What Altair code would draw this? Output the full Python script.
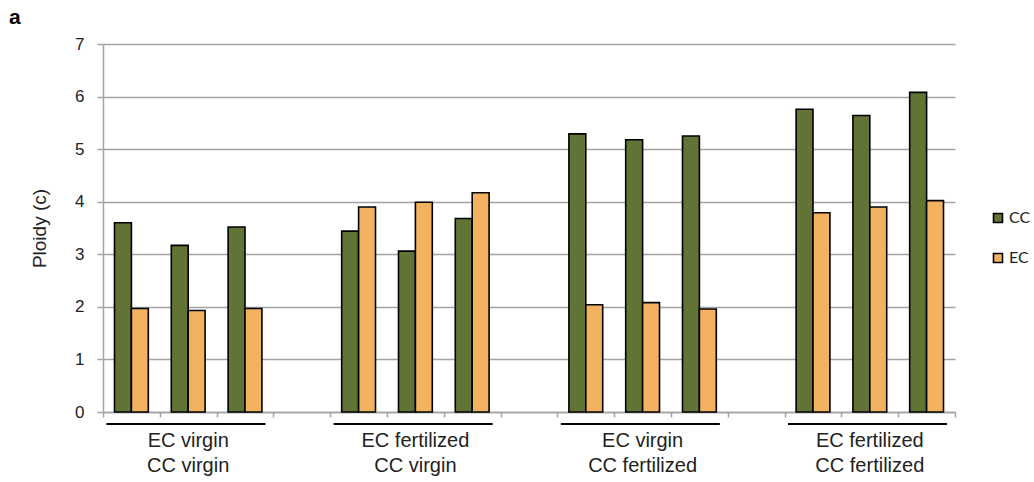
import altair as alt
import pandas as pd

# Ploidy (c) of central cell (CC) and egg cell (EC), three replicates per condition
group_labels = [
    "EC virgin\nCC virgin",
    "EC fertilized\nCC virgin",
    "EC virgin\nCC fertilized",
    "EC fertilized\nCC fertilized",
]
replicates = ["r1", "r2", "r3"]
cc_values = [3.60, 3.17, 3.52, 3.44, 3.06, 3.68, 5.29, 5.18, 5.25, 5.76, 5.64, 6.08]
ec_values = [1.97, 1.93, 1.97, 3.90, 3.99, 4.17, 2.04, 2.08, 1.96, 3.79, 3.90, 4.02]
series_names = ["CC", "EC"]
series_colors = ["#617335", "#f3b25f"]
y_ticks = [0, 1, 2, 3, 4, 5, 6, 7]

# x slots: three replicate slots per group, one empty slot between groups
slot_order = []
group_rows = []
for g in range(len(group_labels)):
    slots = [f"g{g + 1}{r}" for r in replicates]
    slot_order.extend(slots)
    if g < len(group_labels) - 1:
        slot_order.append(f"gap{g + 1}")
    group_rows.append({"first": slots[0], "mid": slots[1], "last": slots[-1],
                       "label": group_labels[g]})

rows = []
i = 0
for g in range(len(group_labels)):
    for r in replicates:
        slot = f"g{g + 1}{r}"
        rows.append({"slot": slot, "series": "CC", "value": cc_values[i]})
        rows.append({"slot": slot, "series": "EC", "value": ec_values[i]})
        i += 1
bars_df = pd.DataFrame(rows)
groups_df = pd.DataFrame(group_rows)

grey = "#a3a3a3"
x_scale = alt.Scale(type="band", domain=slot_order, paddingInner=0, paddingOuter=0)

bars = alt.Chart(bars_df).mark_bar(stroke="black", strokeWidth=1.6).encode(
    x=alt.X("slot:N", scale=x_scale, sort=slot_order,
            axis=alt.Axis(labels=False, title=None, tickBand="extent", grid=False,
                          domainColor=grey, domainWidth=1.5, tickColor=grey,
                          tickWidth=1.5, tickSize=5)),
    xOffset=alt.XOffset("series:N", sort=series_names,
                        scale=alt.Scale(domain=series_names, paddingOuter=0.68,
                                        paddingInner=0)),
    y=alt.Y("value:Q", scale=alt.Scale(domain=[0, 7], nice=False),
            axis=alt.Axis(values=y_ticks, grid=True, gridColor=grey, gridWidth=1.5,
                          domainColor=grey, domainWidth=1.5, tickColor=grey,
                          tickWidth=1.5, tickSize=6, labelFont="Liberation Sans",
                          labelFontSize=17, labelColor="#222222", labelPadding=13,
                          title="Ploidy (c)", titleFont="Liberation Sans",
                          titleFontSize=19, titleFontWeight="normal",
                          titleColor="#222222", titlePadding=25)),
    color=alt.Color("series:N",
                    scale=alt.Scale(domain=series_names, range=series_colors),
                    legend=alt.Legend(title=None, orient="none", legendX=887,
                                      legendY=166, symbolType="square",
                                      symbolSize=81, symbolStrokeColor="black",
                                      symbolStrokeWidth=1.6, labelFont="Lato",
                                      labelFontSize=16, labelColor="#222222",
                                      rowPadding=24, labelOffset=3)),
)

underlines = alt.Chart(groups_df).mark_rule(color="black", strokeWidth=2).encode(
    x=alt.X("first:N", scale=x_scale, bandPosition=0.06),
    x2=alt.X2("last:N", bandPosition=0.86),
    y=alt.value(380),
)

labels = alt.Chart(groups_df).mark_text(
    font="Liberation Sans", fontSize=20, lineBreak="\n", lineHeight=25,
    baseline="top", align="center", color="#222222",
).encode(
    x=alt.X("mid:N", scale=x_scale),
    y=alt.value(387),
    text="label:N",
)

panel_tag = alt.Chart(pd.DataFrame({"tag": ["a"]})).mark_text(
    font="Liberation Sans", fontSize=21, fontWeight="bold", align="left",
    baseline="alphabetic", color="black",
).encode(x=alt.value(-94), y=alt.value(-20), text="tag:N")

chart = alt.layer(bars, underlines, labels, panel_tag).properties(
    width=852,
    height=368,
    autosize=alt.AutoSizeParams(type="none"),
    padding={"left": 103, "top": 44, "right": 79, "bottom": 70},
).configure_view(strokeWidth=0)

chart.save("out.html", embed_options={"renderer": "svg", "actions": False})
